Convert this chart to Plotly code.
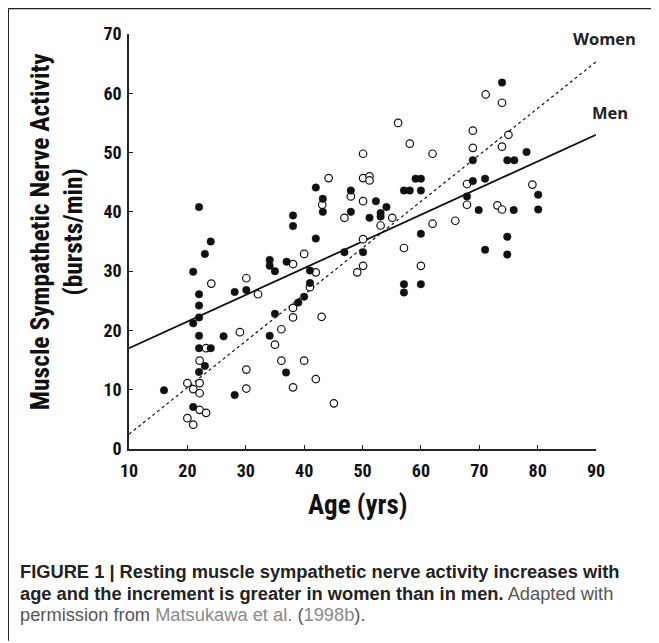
import plotly.graph_objects as go

# ---- data ----
men_age = [16, 22, 24, 23, 21, 22, 22, 22, 21, 22, 22, 24, 23, 22, 21, 26.2, 28.1, 28.1, 30.1,
           34.1, 34.1, 35, 37, 38.1, 38.1, 35, 34.1, 36.9, 39, 40, 41, 41, 42, 42, 43.2, 43.2,
           48, 48, 46.9, 50.1, 52.3, 51.2, 53.1, 53.1, 54.1, 57.1, 58.1, 60, 59.1, 60, 60,
           57.1, 57.1, 60, 68.9, 68.9, 67.9, 69.9, 73.9, 71, 74.8, 76, 78.1, 75.9, 80.1, 80.1,
           74.8, 71, 74.8]
men_msna = [9.9, 40.8, 35, 32.9, 29.9, 26.1, 24.2, 22.2, 21.2, 19.1, 17.0, 17.0, 14.0, 13.0, 7.1,
            19.0, 9.1, 26.5, 26.8, 31.9, 30.9, 30, 31.6, 39.4, 37.6, 22.8, 19.1, 12.9, 24.7, 25.7,
            30.1, 28.0, 35.5, 44.1, 42.2, 40.0, 43.6, 40.0, 33.2, 33.2, 41.8, 39.0, 39.8, 39.2,
            40.8, 43.6, 43.6, 43.6, 45.6, 45.6, 36.3, 27.8, 26.4, 27.8, 48.7, 45.2, 42.6, 40.3,
            61.8, 45.6, 48.7, 48.7, 50.1, 40.3, 42.9, 40.4, 35.8, 33.6, 32.8]

women_age = [20, 21, 22.1, 22.1, 20, 21, 22.1, 23.2, 22.1, 23.2, 24.1, 29, 30.1, 30.1, 30.1,
             32.1, 35, 36.1, 36.1, 38.1, 38.1, 38.1, 38.1, 40, 40, 41, 42, 42, 43, 44.2, 43.1,
             45.1, 50.1, 50.1, 51.2, 51.2, 50.1, 46.9, 48, 53.1, 55.1, 50.1, 50.1, 49.1, 56.1,
             58.1, 62, 57.1, 60, 62, 65.9, 68.9, 68.9, 67.9, 67.9, 71.1, 73.9, 75, 73.9, 73.1,
             73.9, 79.1]
women_msna = [11.1, 10.1, 11.1, 9.4, 5.2, 4.1, 6.6, 6.1, 14.9, 17.0, 27.9, 19.7, 28.8, 13.4, 10.2,
              26.1, 17.6, 20.2, 14.9, 23.8, 22.2, 31.2, 10.4, 14.9, 32.9, 27.3, 29.8, 11.8, 22.3,
              45.7, 41.2, 7.7, 49.8, 45.7, 46.0, 45.3, 41.8, 39.0, 42.6, 37.7, 39.0, 35.4, 30.9,
              29.8, 55.0, 51.5, 49.8, 33.9, 30.9, 38.0, 38.5, 53.7, 50.8, 44.7, 41.2, 59.8, 58.4,
              53.0, 51.0, 41.1, 40.4, 44.6]

fit_age = [10, 90]
men_fit = [17.0, 53.0]
women_fit = [2.5, 65.3]

x_ticks = [10, 20, 30, 40, 50, 60, 70, 80, 90]
y_ticks = [0, 10, 20, 30, 40, 50, 60, 70]

# ---- layout geometry (page pixels; the page body adds an 8px offset) ----
OFF = 8
PW, PH = 659, 643
W, H = PW - OFF, PH - OFF
L, R, T, B = 129.3, 595.7, 34.3, 449.3


def px(x):
    return (x - L) / (R - L)


def py(y):
    return (B - y) / (B - T)


NARROW = "Roboto Condensed, Open Sans Condensed, Liberation Sans Narrow, sans-serif"
ARIAL = "Liberation Sans, Arial, Helvetica, sans-serif"
CAL = "Open Sans, Lato, sans-serif"

fig = go.Figure()
fig.add_trace(go.Scatter(x=fit_age, y=women_fit, mode="lines",
                         line=dict(color="#111", width=1.2, dash="dot"), hoverinfo="skip"))
fig.add_trace(go.Scatter(x=fit_age, y=men_fit, mode="lines",
                         line=dict(color="#111", width=1.8), hoverinfo="skip"))
fig.add_trace(go.Scatter(x=women_age, y=women_msna, mode="markers", name="Women",
                         marker=dict(symbol="circle", size=7.5, color="white",
                                     line=dict(color="#111", width=1.2))))
fig.add_trace(go.Scatter(x=men_age, y=men_msna, mode="markers", name="Men",
                         marker=dict(symbol="circle", size=7.5, color="#111",
                                     line=dict(color="#111", width=0.5))))

axis_common = dict(showline=True, linecolor="#222", linewidth=1.5, ticks="inside",
                   ticklen=4, tickwidth=1.2, tickcolor="#222", showgrid=False, zeroline=False,
                   tickfont=dict(family=NARROW, size=18, color="#111", weight="bold"))
fig.update_xaxes(range=[10, 90], tickvals=x_ticks, ticktext=[str(v) for v in x_ticks],
                 ticklabelstandoff=5, **axis_common)
fig.update_yaxes(range=[0, 70], tickvals=y_ticks, ticktext=[str(v) for v in y_ticks],
                 ticklabelstandoff=2, **axis_common)

ann = []
# axis titles
ann.append(dict(x=px(358), y=py(505), xref="paper", yref="paper", text="Age (yrs)",
                showarrow=False, font=dict(family=NARROW, size=27, color="#111", weight="bold"),
                xanchor="center", yanchor="middle"))
ann.append(dict(x=px(57), y=py(232), xref="paper", yref="paper",
                text="Muscle Sympathetic Nerve Activity<br>(bursts/min)", textangle=-90,
                showarrow=False, font=dict(family=NARROW, size=25.5, color="#111", weight="bold"),
                xanchor="center", yanchor="middle"))
# line labels
ann.append(dict(x=px(604), y=py(39), xref="paper", yref="paper", text="Women", showarrow=False,
                font=dict(family=CAL, size=16.5, color="#222", weight="bold"),
                xanchor="center", yanchor="middle"))
ann.append(dict(x=px(610), y=py(113), xref="paper", yref="paper", text="Men", showarrow=False,
                font=dict(family=CAL, size=16.5, color="#222", weight="bold"),
                xanchor="center", yanchor="middle"))
# caption
cap_lines = [
    "<b>FIGURE 1 | Resting muscle sympathetic nerve activity increases with</b>",
    "<b>age and the increment is greater in women than in men.</b>"
    " <span style='color:#555'>Adapted with</span>",
    "<span style='color:#555'>permission from </span><span style='color:#8a8a8a'>Matsukawa et al.</span>"
    "<span style='color:#555'> (</span><span style='color:#8a8a8a'>1998b</span>"
    "<span style='color:#555'>).</span>",
]
cap_y = [572, 593.5, 615]
for t, yy in zip(cap_lines, cap_y):
    ann.append(dict(x=px(18), y=py(yy), xref="paper", yref="paper", text=t, showarrow=False,
                    font=dict(family=ARIAL, size=18.3, color="#222"),
                    xanchor="left", yanchor="middle", align="left"))

shapes = [
    dict(type="line", xref="paper", yref="paper", x0=px(8.7), x1=px(PW), y0=py(8.7), y1=py(8.7),
         line=dict(color="#222", width=1.5)),
    dict(type="line", xref="paper", yref="paper", x0=px(8.7), x1=px(8.7), y0=py(8.7), y1=py(641),
         line=dict(color="#222", width=1.5)),
]

fig.update_layout(width=W, height=H,
                  margin=dict(l=L - OFF, r=PW - R, t=T - OFF, b=PH - B, pad=0),
                  paper_bgcolor="white", plot_bgcolor="white", showlegend=False,
                  annotations=ann, shapes=shapes)

fig.write_html("out.html")
